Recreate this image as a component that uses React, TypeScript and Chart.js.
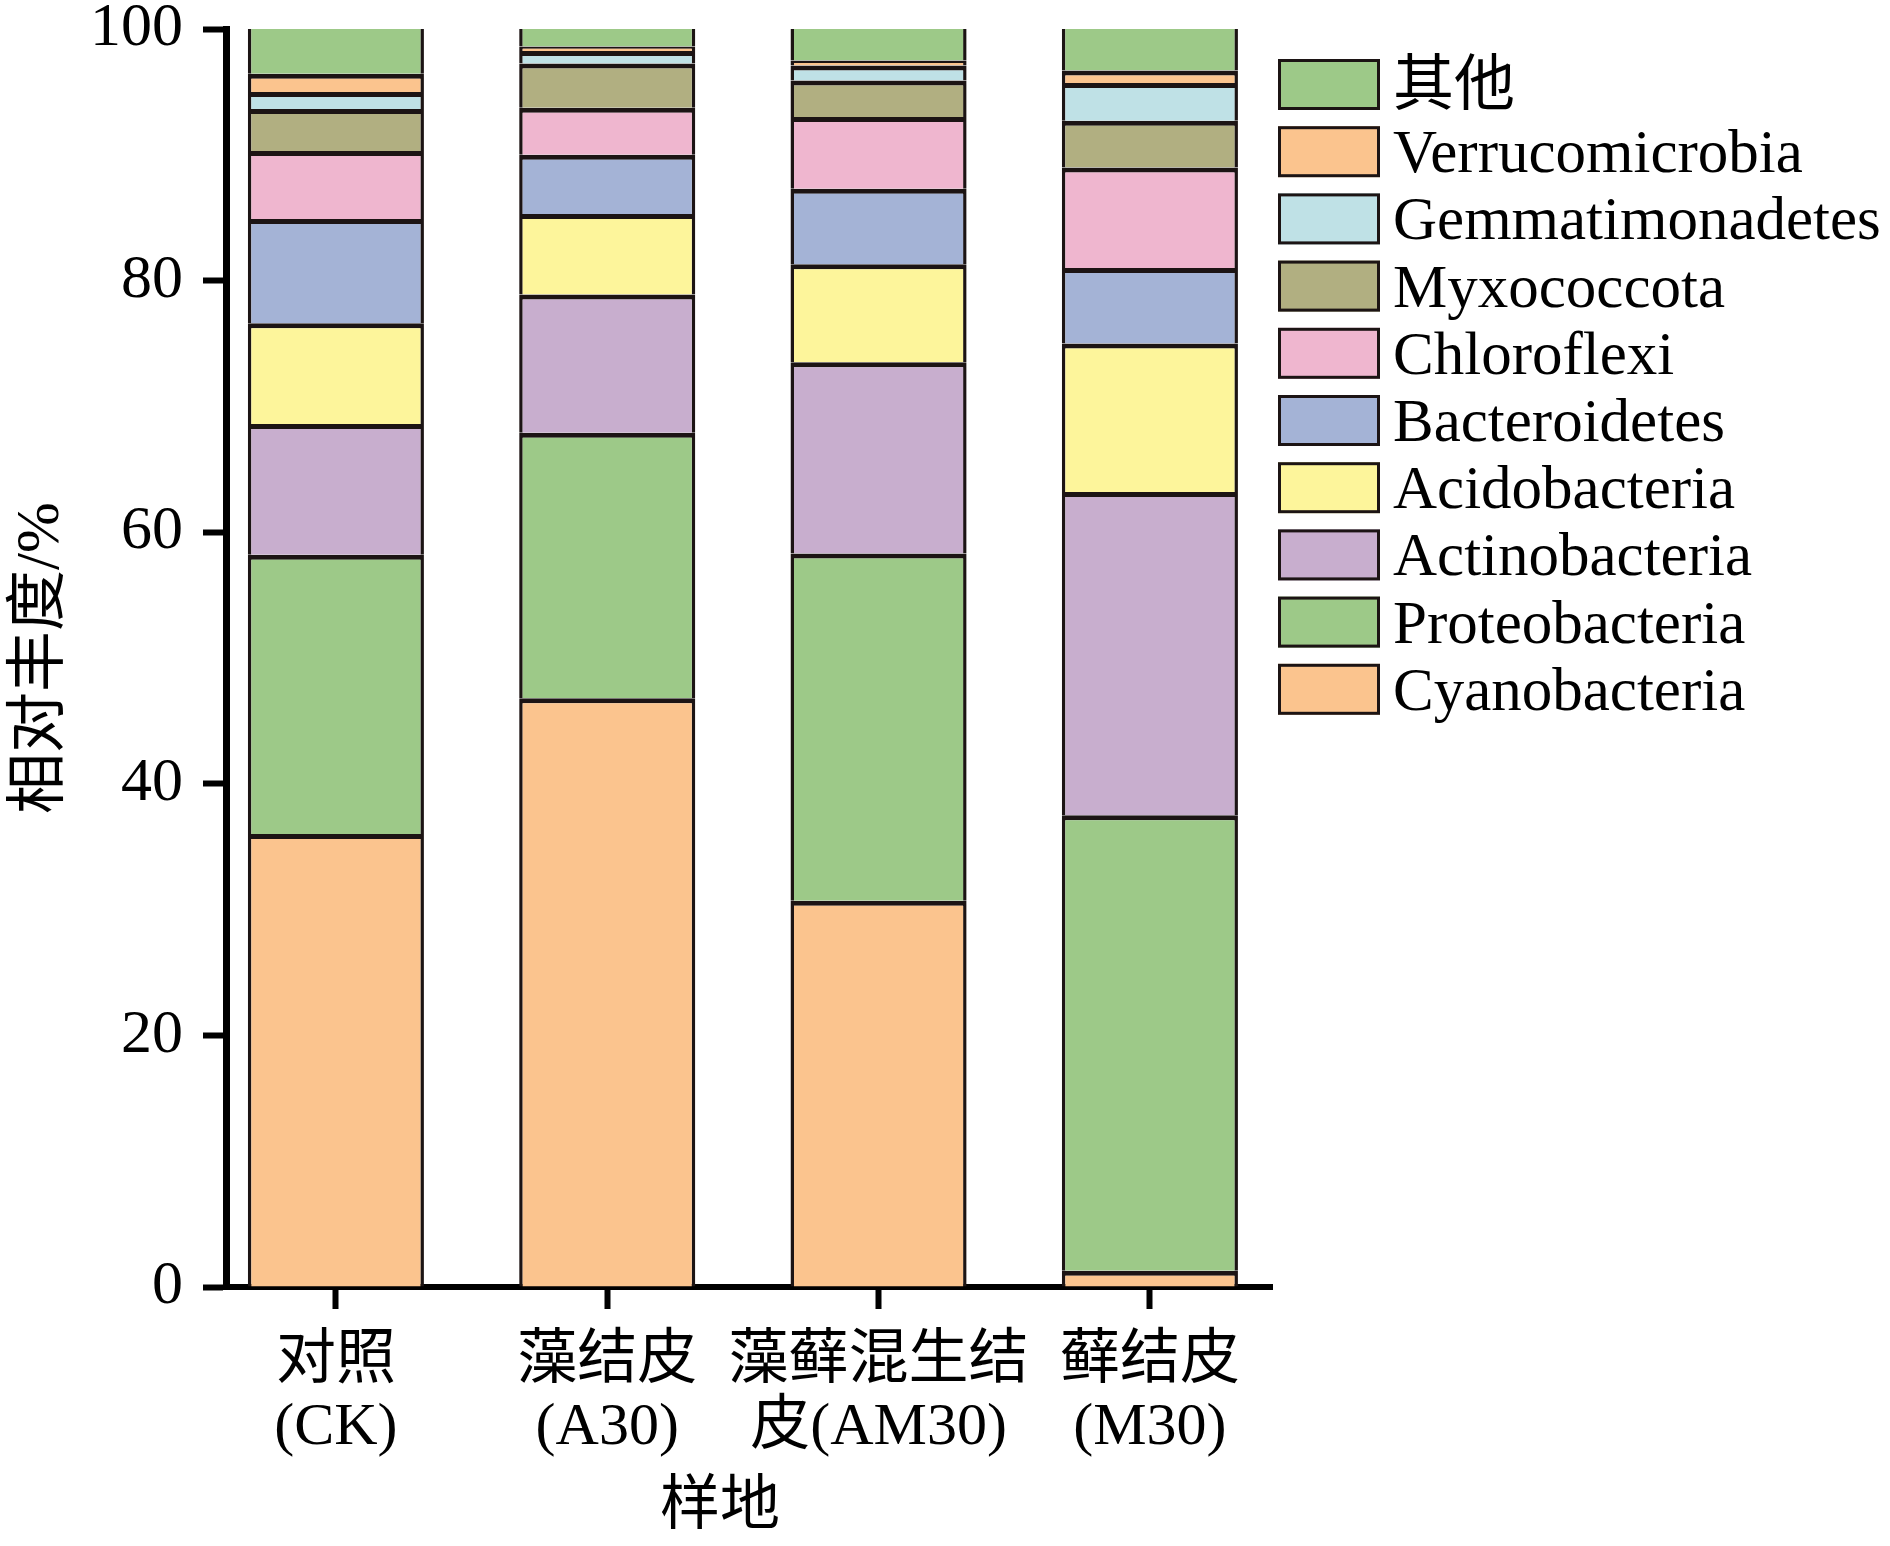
import React, { useEffect, useRef } from 'react';
import { Chart, registerables } from 'chart.js';

Chart.register(...registerables);

// ---- Data ----
const categories: string[][] = [
  ['对照', '(CK)'],
  ['藻结皮', '(A30)'],
  ['藻藓混生结', '皮(AM30)'],
  ['藓结皮', '(M30)'],
];

const seriesNames = [
  'Cyanobacteria',
  'Proteobacteria',
  'Actinobacteria',
  'Acidobacteria',
  'Bacteroidetes',
  'Chloroflexi',
  'Myxococcota',
  'Gemmatimonadetes',
  'Verrucomicrobia',
  '其他',
];

const cyanobacteria = [36.0, 46.8, 30.7, 1.3];
const proteobacteria = [22.2, 21.1, 27.6, 36.2];
const actinobacteria = [10.4, 11.0, 15.2, 25.7];
const acidobacteria = [8.0, 6.4, 7.8, 11.8];
const bacteroidetes = [8.3, 4.7, 6.0, 6.0];
const chloroflexi = [5.4, 3.75, 5.7, 8.0];
const myxococcota = [3.35, 3.5, 2.9, 3.7];
const gemmatimonadetes = [1.35, 1.0, 1.2, 3.0];
const verrucomicrobia = [1.45, 0.35, 0.4, 1.0];
const others = [3.55, 1.4, 2.5, 3.3];

const seriesValues = [
  cyanobacteria,
  proteobacteria,
  actinobacteria,
  acidobacteria,
  bacteroidetes,
  chloroflexi,
  myxococcota,
  gemmatimonadetes,
  verrucomicrobia,
  others,
];

const seriesColors = [
  '#FBC48E',
  '#9DC988',
  '#C8AECE',
  '#FDF59B',
  '#A4B3D6',
  '#EFB6CF',
  '#B1AF81',
  '#BFE1E6',
  '#FBC48E',
  '#9DC988',
];

const yTickStep = 20;
const yMin = 0;
const yMax = 100;
const yTitle = '相对丰度/%';
const xTitle = '样地';

const FAMILY = "'Liberation Serif', 'Noto Sans CJK SC', serif";
const EDGE = '#1c1414';

const customPlugin = {
  id: 'customLegendAndTitle',
  afterDraw(chart: any) {
    const ctx = chart.ctx as CanvasRenderingContext2D;
    const area = chart.chartArea;
    const items = chart.data.datasets.slice().reverse();
    ctx.save();
    const left = area.right + 6;
    const top = area.top + 30;
    const step = 67.2;
    items.forEach((d: any, i: number) => {
      const y = top + i * step;
      ctx.fillStyle = d.backgroundColor;
      ctx.fillRect(left, y, 102, 51);
      ctx.lineWidth = 3;
      ctx.strokeStyle = EDGE;
      ctx.strokeRect(left + 1.5, y + 1.5, 99, 48);
      ctx.fillStyle = '#000';
      ctx.font = `61px ${FAMILY}`;
      ctx.textAlign = 'left';
      ctx.textBaseline = 'alphabetic';
      ctx.fillText(d.label, left + 115, y + 46);
    });
    ctx.font = `60px ${FAMILY}`;
    ctx.textAlign = 'center';
    ctx.textBaseline = 'middle';
    ctx.fillStyle = '#000';
    ctx.fillText(xTitle, 720, 1508);
    ctx.restore();
  },
};

export default function App() {
  const ref = useRef<HTMLCanvasElement | null>(null);

  useEffect(() => {
    if (!ref.current) return;
    const datasets = seriesNames.map((name, si) => {
      const isTop = si === seriesNames.length - 1;
      return {
        label: name,
        data: seriesValues[si].map((v, i) => ({ x: i, y: v })),
        backgroundColor: seriesColors[si],
        borderColor: EDGE,
        borderWidth: { top: isTop ? 0 : 5, left: 3.5, right: 3.5, bottom: 0 },
        borderSkipped: 'start',
        categoryPercentage: 1,
        barPercentage: 0.649,
      };
    });

    const chart = new Chart(ref.current, {
      type: 'bar',
      data: { datasets } as any,
      plugins: [customPlugin],
      options: {
        responsive: false,
        animation: false,
        devicePixelRatio: 1,
        layout: { padding: { left: 0, top: 29, right: 618, bottom: 0 } },
        plugins: {
          legend: { display: false },
          tooltip: { enabled: false },
        },
        scales: {
          x: {
            type: 'linear',
            stacked: true,
            offset: false,
            min: -0.405,
            max: 3.45,
            z: 1,
            grid: {
              display: true,
              offset: false,
              drawOnChartArea: false,
              drawTicks: true,
              tickLength: 22,
              tickWidth: 6,
              color: '#000',
            },
            border: { display: true, width: 6, color: '#000' },
            ticks: {
              stepSize: 1,
              includeBounds: false,
              autoSkip: false,
              maxRotation: 0,
              minRotation: 0,
              padding: 20,
              color: '#000',
              font: { family: FAMILY, size: 60, lineHeight: 1.1 },
              callback: (v: any) => {
                const idx = Math.round(Number(v));
                return Math.abs(Number(v) - idx) < 1e-6 ? categories[idx] : '';
              },
            },
            afterFit: (s: any) => {
              s.height = 259;
              s.paddingLeft = 0;
              s.paddingRight = 0;
            },
          },
          y: {
            stacked: true,
            min: yMin,
            max: yMax,
            grid: {
              display: true,
              drawOnChartArea: false,
              drawTicks: true,
              tickLength: 23,
              tickWidth: 6,
              color: '#000',
            },
            border: { display: true, width: 7, color: '#000' },
            ticks: {
              stepSize: yTickStep,
              padding: 20,
              color: '#000',
              font: { family: FAMILY, size: 62 },
            },
            title: {
              display: true,
              text: yTitle,
              color: '#000',
              font: { family: FAMILY, size: 61 },
              padding: { top: 5, bottom: 0 },
            },
            afterFit: (s: any) => {
              s.width = 226;
              s.paddingTop = 0;
              s.paddingBottom = 0;
            },
          },
        },
      } as any,
    });
    return () => chart.destroy();
  }, []);

  return (
    <div style={{ position: 'fixed', left: 0, top: 0, width: 1890, height: 1546, background: '#fff' }}>
      <canvas ref={ref} width={1890} height={1546} style={{ display: 'block' }} />
    </div>
  );
}
